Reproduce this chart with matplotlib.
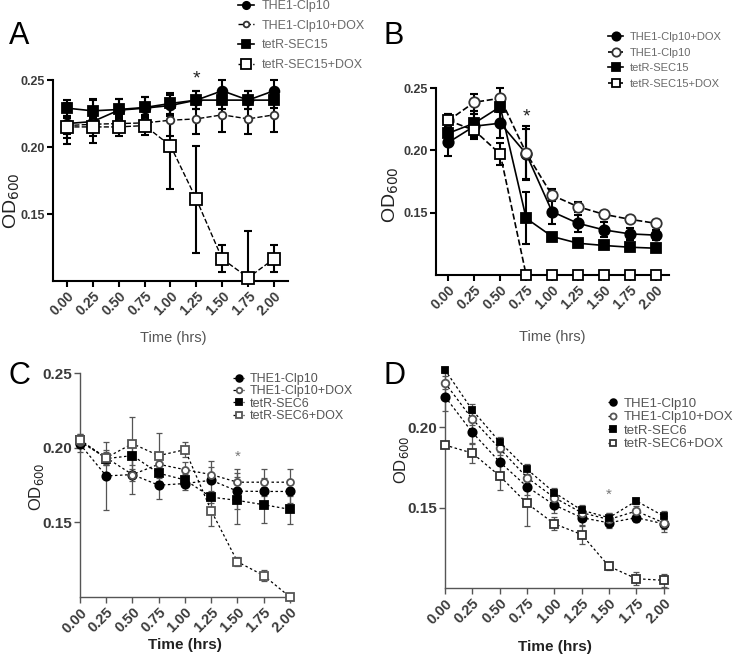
import matplotlib
matplotlib.use("Agg")
import matplotlib.pyplot as plt
from matplotlib.patches import Rectangle

plt.rcParams['font.family'] = ['Liberation Sans', 'DejaVu Sans']

# ---- data ----
time = [0.00, 0.25, 0.50, 0.75, 1.00, 1.25, 1.50, 1.75, 2.00]
tick_labels = ['0.00', '0.25', '0.50', '0.75', '1.00', '1.25', '1.50', '1.75', '2.00']

# panel A
a_the1 = [0.2175, 0.219, 0.2275, 0.229, 0.231, 0.235, 0.242, 0.235, 0.242]
a_the1_err = [0.015, 0.016, 0.008, 0.008, 0.008, 0.007, 0.008, 0.007, 0.008]
a_the1_dox = [0.216, 0.217, 0.2175, 0.218, 0.220, 0.221, 0.224, 0.221, 0.224]
a_the1_dox_err = [0.006, 0.006, 0.006, 0.006, 0.012, 0.011, 0.013, 0.011, 0.013]
a_sec15 = [0.229, 0.227, 0.228, 0.2295, 0.2325, 0.235, 0.235, 0.235, 0.235]
a_sec15_err = [0.006, 0.009, 0.008, 0.008, 0.008, 0.007, 0.007, 0.007, 0.006]
a_sec15_dox = [0.215, 0.215, 0.215, 0.216, 0.201, 0.161, 0.1165, 0.1025, 0.1165]
a_sec15_dox_err = [0.008, 0.007, 0.007, 0.007, 0.032, 0.040, 0.010, 0.035, 0.010]

# panel B
b_the1_dox = [0.2064, 0.2194, 0.2218, 0.1973, 0.1508, 0.1415, 0.1362, 0.133, 0.132]
b_the1_dox_err = [0.011, 0.010, 0.012, 0.020, 0.010, 0.007, 0.006, 0.005, 0.004]
b_the1 = [0.224, 0.2386, 0.2418, 0.1979, 0.164, 0.1548, 0.1487, 0.1447, 0.1415]
b_the1_err = [0.005, 0.007, 0.008, 0.022, 0.005, 0.004, 0.003, 0.003, 0.003]
b_sec15 = [0.2138, 0.2218, 0.235, 0.1455, 0.1309, 0.1255, 0.1237, 0.1223, 0.1215]
b_sec15_err = [0.004, 0.010, 0.004, 0.021, 0.002, 0.002, 0.002, 0.002, 0.002]
b_sec15_dox = [0.224, 0.216, 0.197, 0.100, 0.100, 0.100, 0.100, 0.100, 0.100]
b_sec15_dox_err = [0.005, 0.006, 0.009, 0, 0, 0, 0, 0, 0]

# panel C
c_the1 = [0.2024, 0.1811, 0.182, 0.1749, 0.176, 0.1782, 0.1709, 0.1707, 0.1707]
c_the1_err = [0.005, 0.023, 0.013, 0.009, 0.004, 0.013, 0.012, 0.009, 0.008]
c_the1_dox = [0.204, 0.1933, 0.182, 0.1889, 0.1853, 0.182, 0.1769, 0.1769, 0.1769]
c_the1_dox_err = [0.004, 0.005, 0.004, 0.008, 0.005, 0.005, 0.009, 0.009, 0.009]
c_sec6 = [0.2051, 0.1927, 0.1947, 0.1829, 0.1784, 0.1669, 0.1647, 0.1618, 0.1587]
c_sec6_err = [0.004, 0.004, 0.006, 0.005, 0.004, 0.004, 0.016, 0.012, 0.010]
c_sec6_dox = [0.205, 0.1933, 0.2027, 0.1947, 0.1987, 0.1578, 0.1236, 0.1144, 0.100]
c_sec6_dox_err = [0.004, 0.004, 0.018, 0.015, 0.005, 0.010, 0.003, 0.004, 0.0]

# panel D
d_the1 = [0.2192, 0.1969, 0.1785, 0.1631, 0.1517, 0.1438, 0.1406, 0.1438, 0.140]
d_the1_err = [0.009, 0.007, 0.006, 0.005, 0.005, 0.005, 0.003, 0.003, 0.005]
d_the1_dox = [0.2277, 0.2052, 0.1869, 0.1688, 0.1563, 0.1469, 0.1427, 0.1479, 0.1406]
d_the1_dox_err = [0.004, 0.004, 0.004, 0.004, 0.004, 0.004, 0.004, 0.003, 0.004]
d_sec6 = [0.2358, 0.2108, 0.191, 0.174, 0.1594, 0.1485, 0.1438, 0.1542, 0.1448]
d_sec6_err = [0.002, 0.004, 0.003, 0.003, 0.003, 0.003, 0.003, 0.002, 0.003]
d_sec6_dox = [0.189, 0.184, 0.1698, 0.1527, 0.140, 0.1333, 0.1135, 0.1058, 0.1048]
d_sec6_dox_err = [0.002, 0.006, 0.009, 0.014, 0.004, 0.006, 0.002, 0.004, 0.004]

LEG_GRAY = '#6a6a6a'
TICK_GRAY = '#3a3a3a'


def style_axes(ax, xlim, ylim, yticks, lw, color, xt_size, yt_size):
    ax.set_xlim(*xlim)
    ax.set_ylim(*ylim)
    ax.spines['top'].set_visible(False)
    ax.spines['right'].set_visible(False)
    for s in ('left', 'bottom'):
        ax.spines[s].set_linewidth(lw)
        ax.spines[s].set_color(color)
    ax.set_xticks(time)
    ax.set_xticklabels(tick_labels, rotation=45, ha='right', rotation_mode='anchor',
                       fontsize=xt_size, fontweight='bold', color=TICK_GRAY)
    ax.set_yticks(yticks)
    ax.set_yticklabels(['%.2f' % v for v in yticks], fontsize=yt_size,
                       fontweight='bold', color=TICK_GRAY)
    ax.tick_params(direction='out', length=4, width=lw, color=color, pad=2)


def draw_series(ax, y, err, marker, filled, ls, ms, lw, ecolor, mec, label, elw, cap):
    eb = ax.errorbar(time, y, yerr=err, fmt='none', ecolor=ecolor, elinewidth=elw,
                     capsize=cap, capthick=elw, zorder=2)
    # cut error bars at the x axis only (not at the sides)
    clip = Rectangle((-0.2, 0.0), 1.4, 1.2, transform=ax.transAxes)
    for art in eb.lines[1] + eb.lines[2]:
        art.set_clip_path(clip)
    ax.plot(time, y, linestyle=ls, color='black', lw=lw, marker=marker, ms=ms,
            mfc='black' if filled else 'white', mec=mec, mew=1.3,
            label=label, clip_on=False, zorder=3)


fig = plt.figure(figsize=(7.33, 6.57), dpi=100)

# ---------------- A ----------------
axA = fig.add_axes([0.0723, 0.5723, 0.3206, 0.3059])
draw_series(axA, a_the1, a_the1_err, 'o', True, '-', 7, 1.2, 'black', 'black', 'THE1-Clp10', 1.5, 3)
draw_series(axA, a_the1_dox, a_the1_dox_err, 'o', False, '--', 5.5, 1.0, 'black', '#333333', 'THE1-Clp10+DOX', 1.5, 3)
draw_series(axA, a_sec15, a_sec15_err, 's', True, '-', 7, 1.2, 'black', 'black', 'tetR-SEC15', 1.5, 3)
draw_series(axA, a_sec15_dox, a_sec15_dox_err, 's', False, '--', 9, 1.0, 'black', 'black', 'tetR-SEC15+DOX', 1.5, 3)
style_axes(axA, (-0.135, 2.135), (0.10, 0.25), [0.15, 0.20, 0.25], 1.5, 'black', 10, 9)
axA.text(1.25, 0.2505, '*', ha='center', va='center', fontsize=14, color='#222222')
axA.legend(loc='upper left', bbox_to_anchor=(0.325, 1.0), bbox_transform=fig.transFigure,
           frameon=False, fontsize=9, labelcolor=LEG_GRAY, handlelength=1.3,
           handletextpad=0.6, labelspacing=0.62, borderaxespad=0, borderpad=0,
           markerscale=0.75)
fig.text(0.2365, 0.4855, 'Time (hrs)', ha='center', va='center', fontsize=10.5, color='#555555')
fig.text(0.016, 0.695, r'OD$_{600}$', rotation=90, ha='center', va='center', fontsize=14, color='#222222')
fig.text(0.012, 0.945, 'A', fontsize=22, ha='left', va='center')

# ---------------- B ----------------
axB = fig.add_axes([0.5948, 0.5814, 0.3179, 0.2846])
draw_series(axB, b_the1_dox, b_the1_dox_err, 'o', True, '-', 7.5, 1.2, 'black', 'black', 'THE1-Clp10+DOX', 1.5, 3)
draw_series(axB, b_the1, b_the1_err, 'o', False, '--', 7.5, 1.2, 'black', '#333333', 'THE1-Clp10', 1.5, 3)
draw_series(axB, b_sec15, b_sec15_err, 's', True, '-', 7, 1.2, 'black', 'black', 'tetR-SEC15', 1.5, 3)
draw_series(axB, b_sec15_dox, b_sec15_dox_err, 's', False, '--', 7.5, 1.2, 'black', 'black', 'tetR-SEC15+DOX', 1.5, 3)
style_axes(axB, (-0.12, 2.128), (0.10, 0.25), [0.15, 0.20, 0.25], 1.5, 'black', 10, 9)
axB.text(0.75, 0.227, '*', ha='center', va='center', fontsize=14, color='#222222')
axB.legend(loc='upper left', bbox_to_anchor=(0.83, 0.951), bbox_transform=fig.transFigure,
           frameon=False, fontsize=8, labelcolor=LEG_GRAY, handlelength=1.3,
           handletextpad=0.6, labelspacing=0.5, borderaxespad=0, borderpad=0,
           markerscale=0.8)
fig.text(0.753, 0.487, 'Time (hrs)', ha='center', va='center', fontsize=10.5, color='#555555')
fig.text(0.533, 0.703, r'OD$_{600}$', rotation=90, ha='center', va='center', fontsize=14, color='#222222')
fig.text(0.523, 0.945, 'B', fontsize=22, ha='left', va='center')

# ---------------- C ----------------
GR = '#555555'
axC = fig.add_axes([0.1091, 0.0913, 0.2865, 0.3409])
draw_series(axC, c_the1, c_the1_err, 'o', True, (0, (2, 2)), 6, 0.9, GR, 'black', 'THE1-Clp10', 0.9, 2)
draw_series(axC, c_the1_dox, c_the1_dox_err, 'o', False, (0, (2, 2)), 5, 0.9, GR, '#555555', 'THE1-Clp10+DOX', 0.9, 2)
draw_series(axC, c_sec6, c_sec6_err, 's', True, (0, (2, 2)), 5.5, 0.9, GR, 'black', 'tetR-SEC6', 0.9, 2)
draw_series(axC, c_sec6_dox, c_sec6_dox_err, 's', False, (0, (2, 2)), 6, 0.9, GR, '#555555', 'tetR-SEC6+DOX', 0.9, 2)
style_axes(axC, (0, 2.0), (0.10, 0.25), [0.15, 0.20, 0.25], 1.0, GR, 10.5, 11)
axC.text(1.5, 0.1895, '*', ha='center', va='bottom', fontsize=11, color='#777777')
axC.legend(loc='upper left', bbox_to_anchor=(0.318, 0.432), bbox_transform=fig.transFigure,
           frameon=False, fontsize=9, labelcolor='#555555', handlelength=0.9,
           handletextpad=0.4, labelspacing=0.02, borderaxespad=0, borderpad=0,
           markerscale=0.8)
fig.text(0.2525, 0.018, 'Time (hrs)', ha='center', va='center', fontsize=11, fontweight='bold', color='#222222')
fig.text(0.05, 0.259, r'OD$_{600}$', rotation=90, ha='center', va='center', fontsize=12, color='#222222')
fig.text(0.012, 0.428, 'C', fontsize=22, ha='left', va='center')

# ---------------- D ----------------
axD = fig.add_axes([0.6071, 0.105, 0.3042, 0.3349])
draw_series(axD, d_the1, d_the1_err, 'o', True, (0, (2, 2)), 6, 0.9, GR, 'black', 'THE1-Clp10', 0.9, 2)
draw_series(axD, d_the1_dox, d_the1_dox_err, 'o', False, (0, (2, 2)), 5.5, 0.9, GR, '#555555', 'THE1-Clp10+DOX', 0.9, 2)
draw_series(axD, d_sec6, d_sec6_err, 's', True, (0, (2, 2)), 5, 0.9, GR, 'black', 'tetR-SEC6', 0.9, 2)
draw_series(axD, d_sec6_dox, d_sec6_dox_err, 's', False, (0, (2, 2)), 6, 0.9, GR, '#333333', 'tetR-SEC6+DOX', 0.9, 2)
style_axes(axD, (0, 2.04), (0.10, 0.237), [0.15, 0.20], 1.0, GR, 10.5, 11)
axD.text(1.5, 0.1535, '*', ha='center', va='bottom', fontsize=11, color='#777777')
axD.legend(loc='upper left', bbox_to_anchor=(0.829, 0.395), bbox_transform=fig.transFigure,
           frameon=False, fontsize=9.5, labelcolor='#555555', handlelength=0.8,
           handletextpad=0.4, labelspacing=0.1, borderaxespad=0, borderpad=0,
           markerscale=0.8)
fig.text(0.757, 0.015, 'Time (hrs)', ha='center', va='center', fontsize=11, fontweight='bold', color='#222222')
fig.text(0.548, 0.300, r'OD$_{600}$', rotation=90, ha='center', va='center', fontsize=12, color='#222222')
fig.text(0.523, 0.428, 'D', fontsize=22, ha='left', va='center')

fig.savefig('out.png', dpi=100)
